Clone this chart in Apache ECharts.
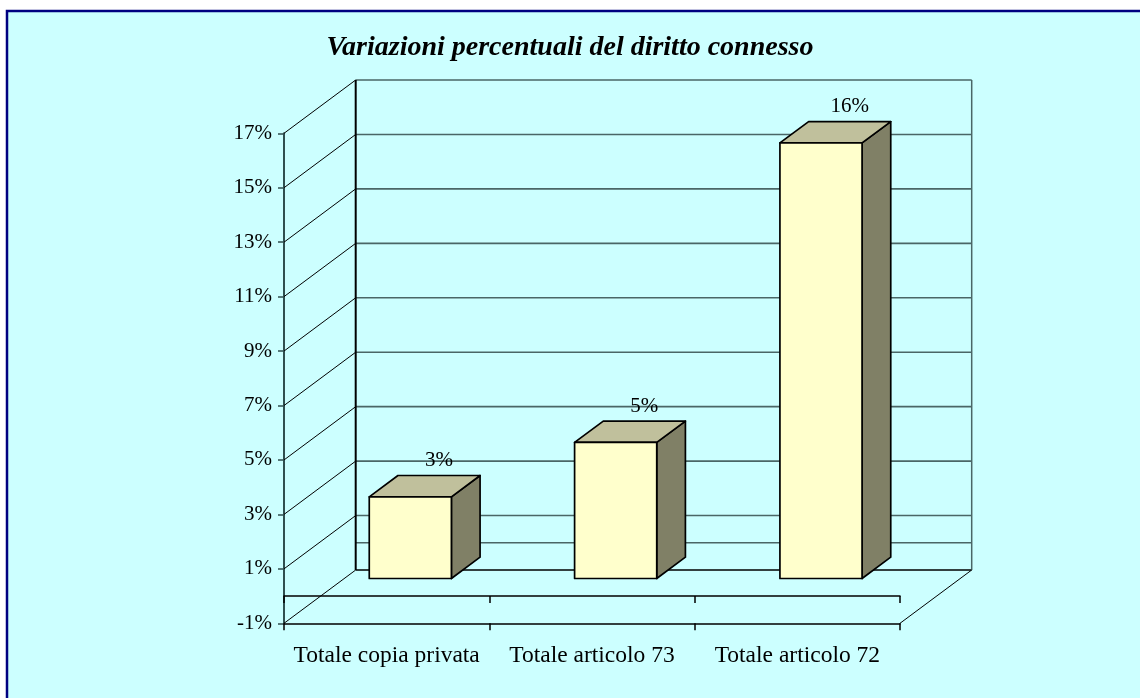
<!DOCTYPE html>
<html>
<head>
<meta charset="utf-8">
<script src="https://cdn.jsdelivr.net/npm/echarts@6/dist/echarts.min.js"></script>
<style>
  html, body { margin: 0; padding: 0; background: #ffffff; }
  #chart { width: 1140px; height: 698px; }
</style>
</head>
<body>
<div id="chart"></div>
<script>
// ---- data ----
const categories = ['Totale copia privata', 'Totale articolo 73', 'Totale articolo 72'];
const values = [3, 5, 16];
const valueLabels = ['3%', '5%', '16%'];
const axisMin = -1;
const axisMax = 17;
const axisStep = 2;
const gridValues = [-1, 1, 3, 5, 7, 9, 11, 13, 15, 17];

// ---- 3D projection helpers (oblique depth vector in px) ----
const DEPTH = [71.7, -53.3];
const BAR_FRONT = 0.33;   // depth fraction where bar front face sits
const BAR_DEPTH = 0.4;    // bar thickness as depth fraction
const BAR_WIDTH = 0.4;    // bar width as fraction of category band
const SERIF = '"Liberation Serif", "Times New Roman", serif';
const GRID_LINE = '#4a6666';

function shift(p, d) {
  return [p[0] + DEPTH[0] * d, p[1] + DEPTH[1] * d];
}
function seg(a, b, stroke, w) {
  return {
    type: 'line',
    shape: { x1: a[0], y1: a[1], x2: b[0], y2: b[1] },
    style: { stroke: stroke, lineWidth: w }
  };
}
function poly(points, fill) {
  return {
    type: 'polygon',
    shape: { points: points },
    style: { fill: fill, stroke: '#000000', lineWidth: 1.7, lineJoin: 'round' }
  };
}

// side wall diagonals + back wall gridlines, one per axis value
function renderGridLine(params, api) {
  const v = api.value(1);
  const cs = params.coordSys;
  const y = api.coord([0, v])[1];
  const L = [cs.x, y], R = [cs.x + cs.width, y];
  const isFloor = v === axisMin;
  return {
    type: 'group',
    children: [
      seg(L, shift(L, 1), '#000000', 1),
      seg(shift(L, 1), shift(R, 1), isFloor ? '#000000' : GRID_LINE, isFloor ? 1.5 : 1.6)
    ]
  };
}

// back wall edges, zero line on the back wall, floor right edge
function renderWalls(params, api) {
  const cs = params.coordSys;
  const yTop = api.coord([0, axisMax])[1];
  const yBot = api.coord([0, axisMin])[1];
  const yZero = api.coord([0, 0])[1];
  const L = cs.x, R = cs.x + cs.width;
  return {
    type: 'group',
    children: [
      seg(shift([R, yTop], 1), shift([R, yBot], 1), GRID_LINE, 1.5),
      seg(shift([L, yZero], 1), shift([R, yZero], 1), GRID_LINE, 1.6),
      seg(shift([L, yTop], 1), shift([L, yBot], 1), '#000000', 2),
      seg([R, yBot], shift([R, yBot], 1), '#000000', 1)
    ]
  };
}

// 3D column: front face, top, right side, value label
function renderBar(params, api) {
  const i = api.value(0);
  const v = api.value(1);
  const top = api.coord([i, v]);
  const base = api.coord([i, 0]);
  const w = api.size([1, 0])[0] * BAR_WIDTH;
  const fl = shift([top[0] - w / 2, top[1]], BAR_FRONT);
  const fr = shift([top[0] + w / 2, top[1]], BAR_FRONT);
  const bl = shift([top[0] - w / 2, base[1]], BAR_FRONT);
  const br = shift([top[0] + w / 2, base[1]], BAR_FRONT);
  const flb = shift(fl, BAR_DEPTH), frb = shift(fr, BAR_DEPTH), brb = shift(br, BAR_DEPTH);
  const lab = shift(top, BAR_FRONT + BAR_DEPTH);
  return {
    type: 'group',
    children: [
      poly([fr, frb, brb, br], '#808066'),
      poly([fl, flb, frb, fr], '#c0c09c'),
      poly([fl, fr, br, bl], '#ffffcc'),
      {
        type: 'text',
        style: {
          text: valueLabels[params.dataIndex],
          x: lab[0], y: lab[1] - 15,
          align: 'center', verticalAlign: 'middle',
          font: '21px ' + SERIF, fill: '#000000'
        }
      }
    ]
  };
}

const chart = echarts.init(document.getElementById('chart'));
chart.setOption({
  animation: false,
  backgroundColor: 'transparent',
  graphic: [{
    type: 'rect',
    z: -10,
    shape: { x: 7, y: 11, width: 1150, height: 700 },
    style: { fill: '#ccffff', stroke: '#000080', lineWidth: 2.5 }
  }],
  title: {
    text: 'Variazioni percentuali del diritto connesso',
    left: 'center',
    top: 29,
    textStyle: {
      fontFamily: SERIF, fontStyle: 'italic', fontWeight: 'bold',
      fontSize: 28, color: '#000000'
    }
  },
  grid: { left: 284, top: 133.3, width: 616, height: 490, containLabel: false },
  xAxis: [{
    type: 'category',
    data: categories,
    position: 'bottom',
    axisLine: { onZero: true, lineStyle: { color: '#000000', width: 1.5 } },
    axisTick: { show: true, length: 7, lineStyle: { color: '#000000', width: 1.5 } },
    axisLabel: { show: false },
    splitLine: { show: false }
  }, {
    type: 'category',
    data: categories,
    position: 'bottom',
    axisLine: { onZero: false, lineStyle: { color: '#000000', width: 1.5 } },
    axisTick: { show: true, length: 7, lineStyle: { color: '#000000', width: 1.5 } },
    axisLabel: {
      show: true, interval: 0, margin: 21, fontSize: 23.5,
      fontFamily: SERIF, color: '#000000'
    },
    splitLine: { show: false }
  }],
  yAxis: {
    type: 'value',
    min: axisMin,
    max: axisMax,
    interval: axisStep,
    axisLine: { show: true, lineStyle: { color: '#2f4f4f', width: 2 } },
    axisTick: { show: true, length: 6, lineStyle: { color: '#2f4f4f', width: 1.5 } },
    axisLabel: {
      margin: 12, fontSize: 21, fontFamily: SERIF, color: '#000000',
      formatter: function (v) { return v + '%'; }
    },
    splitLine: { show: false }
  },
  series: [{
    type: 'custom',
    name: 'gridlines',
    xAxisIndex: 0,
    clip: false,
    z: 1,
    renderItem: renderGridLine,
    data: gridValues.map(function (v) { return [0, v]; })
  }, {
    type: 'custom',
    name: 'walls',
    xAxisIndex: 0,
    clip: false,
    z: 1,
    renderItem: renderWalls,
    data: [[0, 0]]
  }, {
    type: 'custom',
    name: 'Variazione',
    xAxisIndex: 0,
    clip: false,
    z: 5,
    renderItem: renderBar,
    data: values.map(function (v, i) { return [i, v]; })
  }]
});
</script>
</body>
</html>
